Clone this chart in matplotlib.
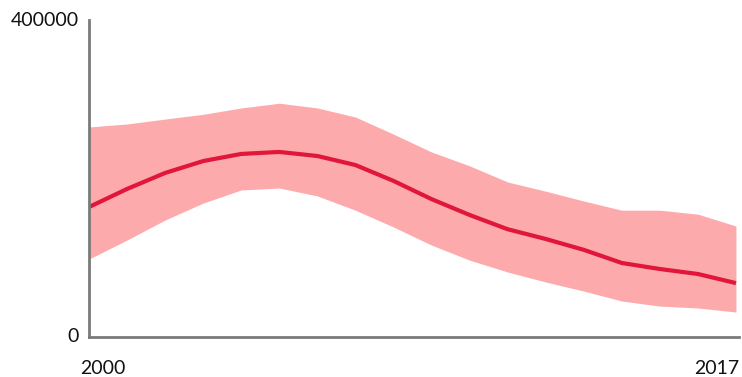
import matplotlib.pyplot as plt

plt.rcParams['font.family'] = ['Lato', 'DejaVu Sans']

anos = list(range(2000, 2018))
estimativa = [164000, 186800, 207000, 222000, 231000, 233500, 228400, 217000, 197000,
              174000, 154000, 136000, 123700, 110000, 93400, 85800, 79500, 68000]
limite_superior = [265000, 268800, 275000, 281000, 289000, 295000, 289000, 277600, 256000,
                   233500, 216000, 195600, 184000, 171600, 160000, 160000, 155000, 140000]
limite_inferior = [98400, 122400, 147600, 169000, 185500, 188000, 178000, 160000, 138800,
                   116000, 97000, 82000, 69400, 58000, 45400, 39000, 36600, 31500]

fig = plt.figure(figsize=(7.42, 3.77), dpi=100)
ax = fig.add_axes([89 / 742, 40 / 377, (739 - 89) / 742, (337 - 20) / 377])

ax.fill_between(anos, limite_inferior, limite_superior, color='#fdaaac', linewidth=0)
ax.plot(anos, estimativa, color='#e0163a', linewidth=3, solid_capstyle='butt')

ax.set_xlim(2000, 2017.08)
ax.set_ylim(0, 400000)

for lado in ['top', 'right']:
    ax.spines[lado].set_visible(False)
for lado in ['left', 'bottom']:
    ax.spines[lado].set_color('#7a7a7a')
    ax.spines[lado].set_linewidth(2)

ax.set_xticks([])
ax.set_yticks([])

# rótulos dos extremos dos eixos
ax.text(-0.015, 1.0, '400000', transform=ax.transAxes, ha='right', va='center',
        fontsize=14, color='#111111')
ax.text(-0.015, 0.0, '0', transform=ax.transAxes, ha='right', va='center',
        fontsize=14, color='#111111')
ax.text(-0.013, -0.1, '2000', transform=ax.transAxes, ha='left', va='center',
        fontsize=14, color='#111111')
ax.text(1.0, -0.1, '2017', transform=ax.transAxes, ha='right', va='center',
        fontsize=14, color='#111111')

plt.savefig('out.png', dpi=100)
